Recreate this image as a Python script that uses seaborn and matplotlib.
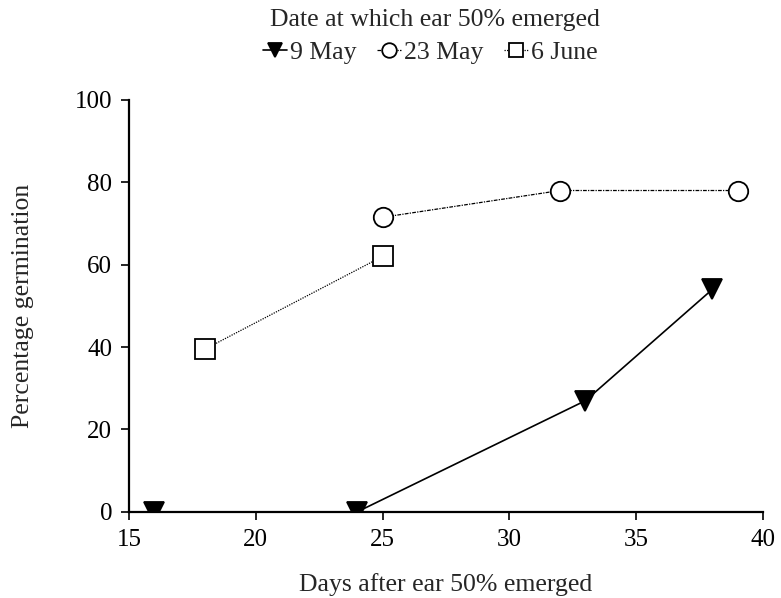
import pandas as pd
import matplotlib.pyplot as plt
import seaborn as sns

# Data
may9_days = [16, 24, 33, 38]
may9_germ = [0, 0, 27, 54]
may23_days = [25, 32, 39]
may23_germ = [71.5, 78, 78]
june6_days = [18, 25]
june6_germ = [39.5, 62]

sns.set_style("ticks")
plt.rcParams['font.family'] = ['Liberation Serif', 'DejaVu Serif']

fig = plt.figure(figsize=(7.81, 5.98), dpi=100)
ax = fig.add_axes([0.165, 0.144, 0.812, 0.689])

series = [
    ("9 May", may9_days, may9_germ, "v", "-", "black", 1.2),
    ("23 May", may23_days, may23_germ, "o", (0, (3, 1, 1, 1)), "white", 0.9),
    ("6 June", june6_days, june6_germ, "s", (0, (1, 1)), "white", 0.9),
]
for name, xs, ys, mk, ls, fc, lw in series:
    df = pd.DataFrame({"days": xs, "germ": ys})
    sns.lineplot(data=df, x="days", y="germ", ax=ax, color="black",
                 marker=mk, markersize=14, markerfacecolor=fc,
                 markeredgecolor="black", markeredgewidth=1.3,
                 linestyle=ls, linewidth=lw, label=name, zorder=3)

ax.set_xlim(15, 40)
ax.set_ylim(0, 100)
ax.set_xticks([15, 20, 25, 30, 35, 40])
ax.set_yticks([0, 20, 40, 60, 80, 100])
ax.tick_params(labelsize=18, direction="out", length=6, width=1.2,
               colors="black", pad=6)
ax.set_xlabel("Days after ear 50% emerged", fontsize=18.5, labelpad=16)
ax.set_ylabel("Percentage germination", fontsize=18.5, labelpad=29)
for s in ["left", "bottom"]:
    ax.spines[s].set_linewidth(1.6)
    ax.spines[s].set_color("black")
sns.despine(ax=ax)

fig.text(0.557, 1 - 20 / 598, "Date at which ear 50% emerged", fontsize=18.5,
         ha="center", va="center")
leg = ax.legend(loc="center", bbox_to_anchor=(0.476, 1 + 47 / 412), ncol=3,
                frameon=False, fontsize=18.5, handlelength=0.9,
                handletextpad=0.15, columnspacing=0.8, markerscale=0.75,
                borderpad=0.1)

fig.savefig("out.png", dpi=100)
